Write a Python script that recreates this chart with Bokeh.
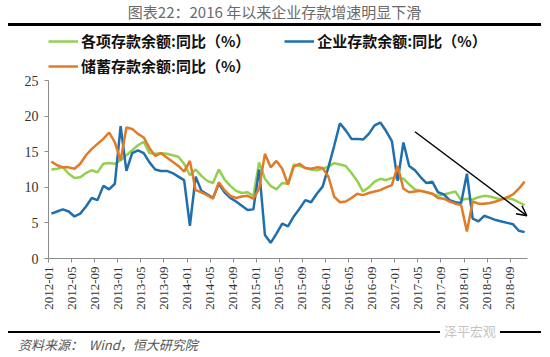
import math
from bokeh.plotting import figure
from bokeh.models import Range1d, FixedTicker, Legend, LegendItem, Arrow, OpenHead, Div
from bokeh.layouts import column
from bokeh.embed import file_html
from bokeh.resources import INLINE

title_text = "图表22：2016 年以来企业存款增速明显下滑"
source_label = "资料来源："
source_text = "Wind，恒大研究院"
watermark_text = "泽平宏观"

series_names = ["各项存款余额:同比（%）", "企业存款余额:同比（%）", "储蓄存款余额:同比（%）"]

tick_labels = ["2012-01", "2012-05", "2012-09", "2013-01", "2013-05", "2013-09",
               "2014-01", "2014-05", "2014-09", "2015-01", "2015-05", "2015-09",
               "2016-01", "2016-05", "2016-09", "2017-01", "2017-05", "2017-09",
               "2018-01", "2018-05", "2018-09"]

# monthly, 2012-01 .. 2018-11
total = [12.5, 12.6, 12.8, 11.9, 11.3, 11.4, 12.0, 12.4, 12.1, 13.3, 13.4, 13.3,
         13.8, 14.5, 15.2, 15.9, 16.4, 14.8, 14.7, 14.8, 14.7, 14.5, 14.3, 13.3,
         11.7, 12.5, 11.6, 10.9, 10.6, 12.5, 11.1, 10.2, 9.5, 9.2, 9.3, 8.8,
         13.5, 11.2, 10.2, 9.7, 10.6, 10.5, 13.2, 13.0, 12.7, 12.5, 12.4, 12.6,
         12.9, 13.4, 13.2, 13.0, 12.0, 10.9, 9.4, 10.0, 10.8, 11.2, 11.0, 11.3,
         11.3, 11.2, 10.4, 9.7, 9.5, 9.3, 9.1, 8.8, 9.0, 9.2, 9.4, 8.2,
         8.4, 8.3, 8.6, 8.8, 8.7, 8.5, 8.3, 8.5, 8.3, 7.9, 7.5]

corporate = [6.3, 6.6, 6.9, 6.6, 5.9, 6.3, 7.3, 8.5, 8.2, 10.2, 9.7, 10.5,
             18.6, 12.3, 14.8, 15.2, 14.8, 13.5, 12.5, 12.3, 12.3, 12.0, 11.5, 11.0,
             4.6, 11.5, 9.5, 9.0, 8.5, 10.5, 9.3, 8.5, 8.0, 7.4, 6.8, 6.9,
             12.5, 3.3, 2.2, 3.5, 4.9, 4.5, 5.9, 7.0, 8.2, 7.9, 9.1, 10.1,
             12.8, 15.8, 19.0, 18.0, 16.8, 16.8, 16.7, 17.5, 18.7, 19.1, 17.9, 16.5,
             10.9, 16.3, 13.0, 12.4, 11.4, 10.6, 10.8, 9.3, 9.0, 8.2, 7.9, 7.8,
             11.9, 5.6, 5.2, 6.0, 5.7, 5.4, 5.2, 5.0, 4.8, 3.9, 3.7]

savings = [13.6, 13.1, 12.8, 12.8, 12.6, 13.3, 14.5, 15.4, 16.1, 16.8, 17.7, 16.3,
           13.8, 18.4, 18.2, 17.5, 17.0, 15.5, 14.4, 14.8, 14.2, 13.6, 13.0, 12.2,
           13.7, 9.6, 9.3, 8.9, 8.4, 10.7, 9.6, 8.8, 8.5, 8.7, 8.8, 8.4,
           9.8, 14.7, 12.8, 13.7, 12.6, 10.4, 12.9, 13.3, 12.7, 12.6, 12.8, 12.7,
           11.5, 8.7, 7.9, 8.0, 8.5, 9.1, 8.9, 9.2, 9.4, 9.6, 10.0, 10.3,
           13.0, 9.8, 9.3, 9.4, 9.5, 9.3, 9.1, 8.5, 8.4, 8.0, 7.7, 7.5,
           3.8, 8.0, 7.7, 7.7, 7.8, 8.0, 8.3, 8.6, 9.0, 9.8, 10.8]

y_ticks = [0, 5, 10, 15, 20, 25]

arrow_start = (63.5, 17.8)
arrow_end = (82.9, 6.0)

colors = ["#92D050", "#1F6FAE", "#E27A26"]

n = len(total)
x = [i + 0.5 for i in range(n)]
CJK = "Noto Sans CJK SC"

# ---------- header (title with the thick rule drawn as the box's bottom border) ----------
header = Div(text=title_text, width=533, height=26, margin=(0, 9, 1, 8),
             styles={"box-sizing": "border-box", "border-bottom": "3px solid #000",
                     "text-align": "center", "white-space": "nowrap",
                     "font-family": CJK, "font-size": "15px", "line-height": "20px",
                     "padding-top": "2px", "color": "#6a6a6a"})

# ---------- main chart ----------
frame_h = 231          # pixels of plot frame (legend area + value area)
value_h = 178          # pixels used by 0..25
y_top = y_ticks[-1] * frame_h / value_h

p = figure(width=550, height=301, x_range=Range1d(0, n), y_range=Range1d(0, y_top),
           output_backend="svg", toolbar_location=None, title=None,
           min_border_left=48, min_border_right=23, min_border_top=0, min_border_bottom=70)
p.outline_line_color = None
p.xgrid.visible = False
p.ygrid.visible = False

r_total = p.line(x, total, line_color=colors[0], line_width=2.5)
r_corp = p.line(x, corporate, line_color=colors[1], line_width=2.5)
r_sav = p.line(x, savings, line_color=colors[2], line_width=2.5)

p.yaxis.ticker = FixedTicker(ticks=y_ticks)
p.yaxis.bounds = (y_ticks[0], y_ticks[-1])
tick_pos = [4 * i for i in range(len(tick_labels))]
p.xaxis.ticker = FixedTicker(ticks=tick_pos)
p.xaxis.major_label_overrides = {t: lab for t, lab in zip(tick_pos, tick_labels)}
p.xaxis.major_label_orientation = math.pi / 2

for ax in (p.xaxis, p.yaxis):
    ax.axis_line_color = "#8c8c8c"
    ax.axis_line_width = 1
    ax.major_tick_line_color = "#8c8c8c"
    ax.major_tick_out = 4
    ax.major_tick_in = 0
    ax.minor_tick_line_color = None
    ax.major_label_text_font = "Liberation Serif"
    ax.major_label_text_color = "#333333"
p.yaxis.major_label_text_font_size = "14px"
p.xaxis.major_label_text_font_size = "13px"
p.yaxis.major_label_standoff = 6
p.xaxis.major_label_standoff = 4

p.add_layout(Arrow(end=OpenHead(size=10, line_width=1.5, line_color="black"),
                   x_start=arrow_start[0], y_start=arrow_start[1],
                   x_end=arrow_end[0], y_end=arrow_end[1],
                   line_color="black", line_width=1.5))


def make_legend(items, loc, spacing):
    return Legend(items=items, location=loc, orientation="horizontal",
                  spacing=spacing, padding=5, margin=0,
                  border_line_color=None, background_fill_alpha=0,
                  glyph_width=30, glyph_height=16, label_standoff=3, label_height=16,
                  label_text_font=CJK, label_text_font_style="bold",
                  label_text_font_size="15px", label_text_color="#111111")


leg_a = make_legend([LegendItem(label=series_names[0], renderers=[r_total]),
                     LegendItem(label=series_names[1], renderers=[r_corp])], (0, 207), 34)
leg_b = make_legend([LegendItem(label=series_names[2], renderers=[r_sav])], (0, 182), 34)
p.add_layout(leg_a, "center")
p.add_layout(leg_b, "center")

# ---------- footer ----------
footer = Div(
    text=(f'<div style="position:relative;width:550px;height:29px;">'
          f'<div style="position:absolute;left:8px;top:3px;width:533px;height:0;'
          f'border-top:2px solid #000;"></div>'
          f'<span style="position:absolute;left:440px;top:-5px;padding:0 4px;'
          f'background:#fff;color:#c4c4c4;font-size:13px;line-height:16px;'
          f'font-family:\'{CJK}\';">{watermark_text}</span>'
          f'<span style="position:absolute;left:18px;top:8px;font-style:italic;'
          f'color:#555555;font-size:13px;line-height:18px;white-space:nowrap;'
          f'font-family:\'{CJK}\';">{source_label}&nbsp;&nbsp;{source_text}</span>'
          f'</div>'),
    width=550, height=29, margin=0)

layout = column(header, p, footer, spacing=0)
open("out.html", "w").write(file_html(layout, INLINE))
